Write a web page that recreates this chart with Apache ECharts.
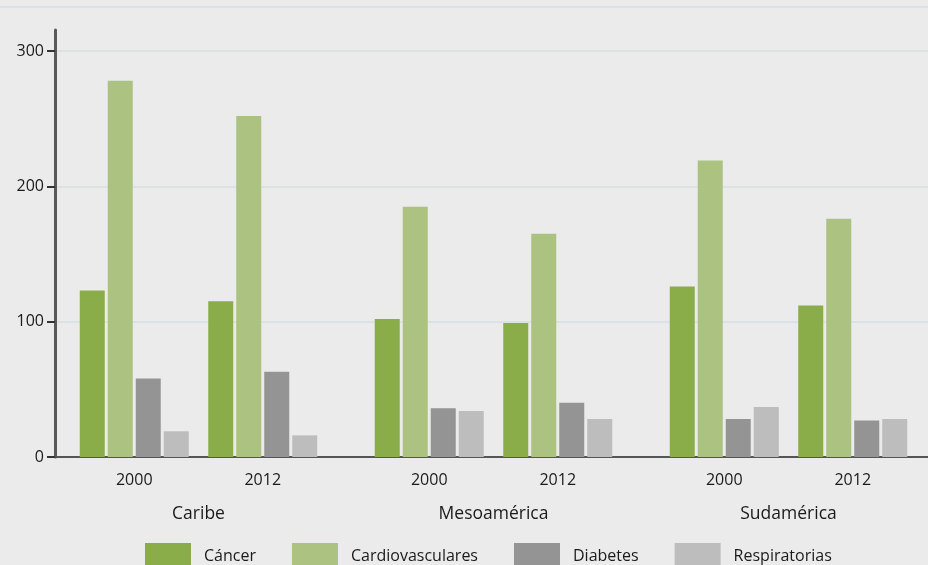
<!DOCTYPE html>
<html>
<head>
<meta charset="utf-8">
<script src="https://cdn.jsdelivr.net/npm/echarts@6/dist/echarts.min.js"></script>
<style>
  html, body { margin: 0; padding: 0; background: #ebebeb; }
  #main { width: 928px; height: 565px; }
</style>
</head>
<body>
<div id="main"></div>
<script>
// data
let regions = ['Caribe', 'Mesoamérica', 'Sudamérica'];
let years = ['2000', '2012'];
let seriesNames = ['Cáncer', 'Cardiovasculares', 'Diabetes', 'Respiratorias'];
// values in order: Caribe 2000, Caribe 2012, Meso 2000, Meso 2012, Sud 2000, Sud 2012
let cancer = [123, 115, 102, 99, 126, 112];
let cardio = [278, 252, 185, 165, 219, 176];
let diabetes = [58, 63, 36, 40, 28, 27];
let respiratorias = [19, 16, 34, 28, 37, 28];
let yTicks = [0, 100, 200, 300];

let colors = ['#8aad4a', '#abc280', '#949494', '#bdbdbd'];
let allValues = [cancer, cardio, diabetes, respiratorias];
const font = '"Open Sans", sans-serif';
const textColor = '#1a1a1a';

// one grid per region, plus a background grid for the scale
let grids = [
    { left: 55, right: 0, top: 51, bottom: 108 },   // scale + gridlines
    { left: 55, width: 4, top: 30, bottom: 108 }    // tall y axis line
];
let xAxes = [
    { gridIndex: 0, type: 'value', min: 0, max: 1,
      axisLine: { show: true, lineStyle: { color: '#555', width: 2 } },
      axisTick: { show: false }, axisLabel: { show: false }, splitLine: { show: false } },
    { gridIndex: 1, type: 'value', min: 0, max: 1, show: false }
];
let yAxes = [
    { gridIndex: 0, type: 'value', min: yTicks[0], max: yTicks[yTicks.length - 1], interval: 100,
      axisLine: { show: false },
      axisTick: { show: true, length: 8, lineStyle: { color: '#333', width: 2 } },
      axisLabel: { margin: 11, fontSize: 16, color: textColor, fontFamily: font },
      splitLine: { show: true, lineStyle: { color: '#dbe2e6', width: 2 } } },
    { gridIndex: 1, type: 'value', min: 0, max: 1,
      axisLine: { show: true, lineStyle: { color: '#595959', width: 3 } },
      axisTick: { show: false }, axisLabel: { show: false }, splitLine: { show: false } }
];

let regionLeft = [70, 365, 660];
let series = [];
regions.forEach((region, r) => {
    let gi = grids.length;
    grids.push({ left: regionLeft[r], width: 257, top: 51, bottom: 108 });
    xAxes.push({
        gridIndex: gi, type: 'category', data: years, name: region,
        nameLocation: 'middle', nameGap: 48,
        nameTextStyle: { fontSize: 17.5, color: textColor, fontFamily: font },
        axisLine: { show: false }, axisTick: { show: false },
        axisLabel: { margin: 15, fontSize: 16, color: textColor, fontFamily: font }
    });
    yAxes.push({ gridIndex: gi, type: 'value', min: 0, max: 300, interval: 100, show: false });
    seriesNames.forEach((name, s) => {
        series.push({
            name: name,
            type: 'bar',
            xAxisIndex: gi,
            yAxisIndex: gi,
            barWidth: 25,
            barGap: '12%',
            itemStyle: { color: colors[s] },
            data: allValues[s].slice(r * 2, r * 2 + 2)
        });
    });
});

const option = {
    backgroundColor: '#ebebeb',
    animation: false,
    color: colors,
    grid: grids,
    xAxis: xAxes,
    yAxis: yAxes,
    legend: {
        data: seriesNames,
        left: 145,
        top: 543,
        padding: 0,
        itemWidth: 46,
        itemHeight: 26,
        itemGap: 36,
        icon: 'rect',
        textStyle: { fontSize: 16, color: textColor, fontFamily: font, padding: [0, 0, 0, 8] }
    },
    graphic: [{
        type: 'line',
        shape: { x1: 0, y1: 7, x2: 928, y2: 7 },
        style: { stroke: '#dde2e6', lineWidth: 2 }
    }],
    series: series
};

let plot = echarts.init(document.querySelector('#main'));
plot.setOption(option);
</script>
</body>
</html>
